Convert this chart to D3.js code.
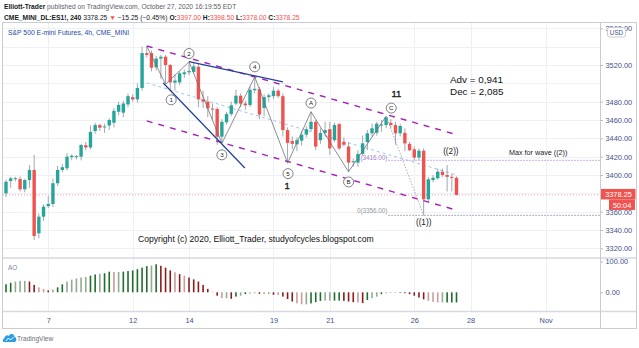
<!DOCTYPE html>
<html><head><meta charset="utf-8">
<script src="https://cdn.jsdelivr.net/npm/d3@7/dist/d3.min.js"></script>
<style>
html,body{margin:0;padding:0;background:#fff;}
svg{display:block;font-family:"Liberation Sans",Arial,sans-serif;}
</style></head><body>
<svg id="chart" width="639" height="348"></svg>
<script>
// ES1! (CME_MINI) 4h bars, 6 Oct – 27 Oct 2020
const openP = [3380,3393.5,3396,3395.6,3384.4,3394.5,3405.5,3336.4,3354.5,3366,
  3368.4,3391,3405.5,3407.3,3419.5,3420,3420,3432.5,3430,3448,
  3454.5,3452,3454,3457,3469,3468,3477,3485,3482.5,3495,
  3533,3533,3517.5,3527,3529,3520,3500.7,3501,3510,3512,
  3512.5,3518,3482.5,3480,3472.5,3472,3441.8,3457.5,3466.5,3478,
  3486.5,3478,3476.4,3492.5,3493.5,3473,3485,3486,3492,3486,
  3449,3437,3433.5,3437.5,3444,3450,3458,3438,3446,3450,
  3438,3455.5,3436,3431,3414,3413.5,3423,3436,3445.5,3446,
  3454.5,3454.5,3457,3454.5,3445.5,3446,3434,3428,3419,3426.5,
  3373.5,3394.5,3396.4,3403.6,3400,3398,3397];
const highP = [3395,3398,3398,3398.5,3396,3411,3422,3358,3368,3377,
  3396,3410,3412,3424,3422.5,3422,3434,3436,3454,3457,
  3456,3456,3462,3473,3480,3481,3489,3488,3500,3540,
  3540.5,3536,3530,3531,3531,3521,3510,3513,3515,3523,
  3523,3521,3492,3486,3478,3474,3461,3469,3480,3493,
  3489,3481,3496,3507,3496,3488,3489,3496,3494,3489,
  3452,3442,3441,3448,3453,3469,3460,3451,3458,3458,
  3457,3457,3441,3436,3418,3427,3443,3449,3456,3458,
  3460,3464,3461,3458,3456,3451,3436,3431,3429,3429,
  3398,3400,3407,3407,3411,3401,3398.5];
const lowP = [3376,3386,3393,3382,3381,3386,3329,3331,3350,3364,
  3365,3388,3403,3405,3416,3417,3416,3427,3428,3445,
  3448,3446,3449,3452,3465,3463,3474,3480,3479,3492,
  3528,3513,3514,3505,3500,3493,3492,3498,3506,3509,
  3511,3474,3473,3463,3460,3433,3434.5,3455,3464,3476,
  3474,3471,3474,3489,3461,3464,3480,3483,3484,3442,
  3413,3428,3426,3432,3441,3447,3427,3434,3442,3422,
  3436,3427,3431,3403.5,3409,3409,3421,3427,3442,3443,
  3447,3451,3451,3433,3442,3426,3426,3416,3416,3356,
  3371,3392,3395,3398,3382,3382,3378];
const closeP = [3392.7,3396.4,3396.5,3384.4,3394.5,3405.5,3333.5,3354.5,3365.5,3368.5,
  3391,3405.5,3408.5,3420,3421,3420.5,3432.7,3430,3447,3454.5,
  3451.6,3453,3460,3470,3476.5,3478,3486,3482.5,3495,3533,
  3531,3517,3527,3529,3520,3501,3503,3511,3512,3513.5,
  3518.5,3482.5,3480,3472.7,3471.5,3441.8,3458,3466.5,3476,3486.5,
  3478,3476,3493,3494,3466,3485,3487,3492,3486,3449,
  3435,3434,3438,3444,3450,3458,3431,3446,3449,3429,
  3454.5,3429,3433,3413.5,3415,3423,3434.5,3445.5,3451,3456,
  3455,3463,3454.5,3445.5,3453.5,3434.5,3427,3419,3426.5,3373.5,
  3395.3,3397,3403.6,3400,3398,3397.5,3378.25];

// Awesome Oscillator, one value per bar
const aoValues = [26,31,35,37,37,35,24,16,11,6,
  9,16,26,35,41,45,48,50,54,58,
  60,62,67,66,66,67,69,71,75,80,
  85,87,91,86,80,71,65,59,54,48,
  42,35,24,11,2,-11,-19,-19,-21,-14,
  -11,-6,-4,-3,-5,-6,-6,-8,-9,-14,
  -22,-30,-36,-39,-39,-36,-32,-28,-27,-27,
  -27,-27,-28,-30,-32,-33,-35,-25,-19,-14,
  -6,-3,-2,-2,-2,-3,-6,-11,-17,-23,
  -28,-31,-33,-33,-33,-33,-33];

// time axis: bar index of each labelled session
const dayIdx = [9,27,39,57,69,87,99,115];
const dayLabels = ["7","12","14","19","21","26","28","Nov"];
const priceTicks = [3320,3340,3360,3400,3420,3440,3460,3480,3520,3560];
const gridPrices = d3.range(3320, 3561, 20);
const aoTicks = [0,100];
const lastPrice = 3378.25;

// Elliott wave count (bar index, price)
const waveIdx   = [30,34,39,46,53,60,65,73,81];
const wavePrice = [3540.5,3499,3523.5,3434.5,3507,3413,3469,3403.5,3464];
const waveEndIdx = [81,89];
const waveEndPrice = [3464,3356];
const circleText  = ["1","2","3","4","5","A","B","C"];
const circleIdx   = [35.2,39,46,53,60.1,65,73,82.1];
const circlePrice = [3482,3532.5,3422,3518,3401.5,3478.5,3392.4,3473];
const plainText  = ["1","11","((2))","((1))"];
const plainIdx   = [59.9,83.2,94.8,89];
const plainPrice = [3388,3489,3425.5,3349];

// channel and trend lines: [startIdx, startPrice, endIdx, endPrice]
const channelUpper = [30,3540.7,96.3,3443.6];
const channelLower = [30,3459,95.9,3361.8];
const channelMid   = [30,3500.4,96.1,3400];
const trendA = [33.5,3500.4,50.9,3407.6];
const trendB = [39,3523.6,59,3501.5];
const fibLevels = [3416,3356];
const fibLabels = ["1(3416.00)","0(3356.00)"];
const fibStartIdx = 81.5;

const svg = d3.select("#chart");
const L = 3, R = 600.5, T = 23, PB = 257.5, AT = 258.5, AB = 311.5, B = 328.5;

const x = d3.scaleLinear().domain([0, 96]).range([6, 456.5]);
const y = d3.scaleLinear().domain([3400, 3520]).range([175, 65]);
const yA = d3.scaleLinear().domain([0, 100]).range([292.3, 261.5]);

const defs = svg.append("defs");
defs.append("clipPath").attr("id","cp").append("rect").attr("x",L).attr("y",T).attr("width",R-L).attr("height",PB-T);
defs.append("clipPath").attr("id","ca").append("rect").attr("x",L).attr("y",AT).attr("width",R-L).attr("height",AB-AT);

// header
const h1 = svg.append("text").attr("x",4).attr("y",9).attr("font-size",6.7).attr("fill","#131722");
h1.append("tspan").attr("font-weight","bold").text("Elliott-Trader");
h1.append("tspan").attr("fill","#5d606b").text(" published on TradingView.com, October 27, 2020 16:19:55 EDT");
const h2 = svg.append("text").attr("x",4).attr("y",19.5).attr("font-size",6.7).attr("fill","#131722");
h2.append("tspan").attr("font-weight","bold").text("CME_MINI_DL:ES1!, 240 ");
h2.append("tspan").text("3378.25 ");
h2.append("tspan").attr("fill","#ef5350").text("▼");
h2.append("tspan").text(" −15.25 (−0.45%) ");
[["O:","3397.00"],["H:","3398.50"],["L:","3378.00"],["C:","3378.25"]].forEach(([k,v],j)=>{
  h2.append("tspan").attr("font-weight","bold").text((j? " ":"")+k);
  h2.append("tspan").attr("fill","#ef5350").text(v);
});

// frame
svg.append("rect").attr("x",2.5).attr("y",T-0.5).attr("width",634).attr("height",B-T+0.5)
  .attr("fill","#fff").attr("stroke","#c9ccd3");

// grid
const grid = svg.append("g").attr("stroke","#edf0f6").attr("stroke-width",1);
grid.selectAll(".hg").data(gridPrices).join("line")
  .attr("x1",L).attr("x2",R).attr("y1",d=>Math.round(y(d))+0.5).attr("y2",d=>Math.round(y(d))+0.5);
grid.selectAll(".vg").data(dayIdx).join("line")
  .attr("y1",T).attr("y2",AB).attr("x1",d=>Math.round(x(d))+0.5).attr("x2",d=>Math.round(x(d))+0.5);

// pane separators
svg.append("line").attr("x1",L).attr("x2",636).attr("y1",258).attr("y2",258).attr("stroke","#d6d9e0").attr("stroke-width",1.6);
svg.append("line").attr("x1",L).attr("x2",636).attr("y1",AB).attr("y2",AB).attr("stroke","#d6d9e0").attr("stroke-width",1.6);
svg.append("line").attr("x1",R).attr("x2",R).attr("y1",T).attr("y2",B).attr("stroke","#c9ccd3");

const pane = svg.append("g").attr("clip-path","url(#cp)");

// last price line
pane.append("line").attr("x1",L).attr("x2",R).attr("y1",y(lastPrice)).attr("y2",y(lastPrice))
  .attr("stroke","#f5a3a8").attr("stroke-dasharray","1,2");

// fib levels
fibLevels.forEach((lv,k)=>{
  pane.append("line").attr("x1",x(fibStartIdx)).attr("x2",R).attr("y1",y(lv)).attr("y2",y(lv))
    .attr("stroke",k===0?"#b07cd6":"#787b86").attr("stroke-dasharray","1.2,1.8").attr("stroke-width",1);
  pane.append("text").attr("x",x(fibStartIdx)-1).attr("y",y(lv)-(k===0?0.5:2.5)).attr("text-anchor","end")
    .attr("font-size",6.3).attr("fill",k===0?"#a67fd0":"#9598a1").text(fibLabels[k]);
});

function seg(a, stroke, w, dash){
  pane.append("line").attr("x1",x(a[0])).attr("y1",y(a[1])).attr("x2",x(a[2])).attr("y2",y(a[3]))
    .attr("stroke",stroke).attr("stroke-width",w).attr("stroke-dasharray",dash||null);
}
seg(channelMid,"#9cc3f0",1,"3,3");

// candles
const bars = openP.map((o,i)=>({i,o,h:highP[i],l:lowP[i],c:closeP[i]}));
pane.selectAll(".wick").data(bars).join("line")
  .attr("x1",d=>x(d.i)).attr("x2",d=>x(d.i)).attr("y1",d=>y(d.h)).attr("y2",d=>y(d.l))
  .attr("stroke","#a3a6ad").attr("stroke-width",1);
pane.selectAll(".body").data(bars).join("rect")
  .attr("x",d=>x(d.i)-1.7).attr("width",3.4)
  .attr("y",d=>y(Math.max(d.o,d.c)))
  .attr("height",d=>Math.max(1,Math.abs(y(d.o)-y(d.c))))
  .attr("fill",d=>d.c>=d.o?"#26a69a":"#ef5350");

// channel lines
seg(channelUpper,"#a51fb8",1.4,"6,6");
seg(channelLower,"#a51fb8",1.4,"6,6");
seg(trendA,"#1f3f98",1.2);
seg(trendB,"#1f3f98",1.2);

// wave zigzag
const zz = d3.line().x(d=>x(d[0])).y(d=>y(d[1]));
pane.append("path").attr("d",zz(waveIdx.map((v,k)=>[v,wavePrice[k]])))
  .attr("fill","none").attr("stroke","#6f7178").attr("stroke-width",0.8);
pane.append("path").attr("d",zz(waveEndIdx.map((v,k)=>[v,waveEndPrice[k]])))
  .attr("fill","none").attr("stroke","#a0a3aa").attr("stroke-width",0.9).attr("stroke-dasharray","1.5,1.5");

// wave labels
const cl = pane.selectAll(".cl").data(circleText).join("g")
  .attr("transform",(d,k)=>`translate(${x(circleIdx[k])},${y(circlePrice[k])})`);
cl.append("circle").attr("r",5).attr("fill","#fff").attr("stroke","#4a4c52").attr("stroke-width",0.7);
cl.append("text").attr("text-anchor","middle").attr("dy","0.35em").attr("font-size",6.2).attr("fill","#222").text(d=>d);
pane.selectAll(".pl").data(plainText).join("text")
  .attr("x",(d,k)=>x(plainIdx[k])).attr("y",(d,k)=>y(plainPrice[k])).attr("dy","0.35em")
  .attr("text-anchor","middle").attr("fill","#1a1a1a")
  .attr("font-size",(d,k)=>k<2?9.5:8.2)
  .attr("stroke",(d,k)=>k<2?"#1a1a1a":null).attr("stroke-width",(d,k)=>k<2?0.35:null)
  .text(d=>d);

// notes
pane.append("text").attr("x",450).attr("y",82.5).attr("font-size",9.9).attr("fill","#111").text("Adv = 0,941");
pane.append("text").attr("x",450).attr("y",94.5).attr("font-size",9.9).attr("fill","#111").text("Dec = 2,085");
pane.append("text").attr("x",509).attr("y",155).attr("font-size",7.2).attr("fill","#222").text("Max for wave ((2))");
pane.append("text").attr("x",138).attr("y",242).attr("font-size",8.6).attr("fill","#111")
  .text("Copyright (c) 2020,  Elliott_Trader, studyofcycles.blogspot.com");
svg.append("text").attr("x",8).attr("y",34.5).attr("font-size",6.8).attr("fill","#1c4aa6").text("S&P 500 E-mini Futures, 4h, CME_MINI");

// AO pane
const aoPane = svg.append("g").attr("clip-path","url(#ca)");
function aoColor(k){
  const v = aoValues[k], prev = k>0?aoValues[k-1]:v;
  const d = v-prev, dp = k>1?prev-aoValues[k-2]:d;
  const strong = Math.abs(d) >= Math.abs(dp);
  if (d >= 0) return strong ? "#1f6e2a" : "#93aa93";
  return strong ? "#8e1b1b" : "#c79d9d";
}
aoPane.selectAll(".ao").data(aoValues).join("rect")
  .attr("x",(d,k)=>x(k)-0.8).attr("width",1.6)
  .attr("y",d=>Math.min(yA(d),yA(0))).attr("height",d=>Math.max(0.6,Math.abs(yA(d)-yA(0))))
  .attr("fill",(d,k)=>aoColor(k));
svg.append("text").attr("x",8).attr("y",270).attr("font-size",6.3).attr("fill","#7a86aa").text("AO");

// axes
const axColor = "#3f5189";
const pAxis = svg.append("g").attr("transform",`translate(${R},0)`)
  .call(d3.axisRight(y).tickValues(priceTicks).tickFormat(d3.format(".2f")).tickSize(2.5).tickPadding(2.5));
const aAxis = svg.append("g").attr("transform",`translate(${R},0)`)
  .call(d3.axisRight(yA).tickValues(aoTicks).tickFormat(d3.format(".2f")).tickSize(2.5).tickPadding(2.5));
const tAxis = svg.append("g").attr("transform",`translate(0,${AB})`)
  .call(d3.axisBottom(x).tickValues(dayIdx).tickFormat((d,k)=>dayLabels[k]).tickSize(0).tickPadding(6));
[pAxis,aAxis,tAxis].forEach(g=>{
  g.select(".domain").remove();
  g.selectAll("text").attr("font-size",7.4).attr("fill",axColor).attr("font-family","Liberation Sans, Arial, sans-serif");
  g.selectAll("line").attr("stroke","#b8bcc6");
});

// USD badge
svg.append("rect").attr("x",607.5).attr("y",27.5).attr("width",18).attr("height",9.5).attr("rx",2)
  .attr("fill","#fff").attr("stroke","#c9ccd3");
svg.append("text").attr("x",616.5).attr("y",34.7).attr("text-anchor","middle").attr("font-size",6.3).attr("fill",axColor).text("USD");

// last price tag + countdown
const ty = y(lastPrice);
svg.append("rect").attr("x",R+0.5).attr("y",ty-6).attr("width",34.5).attr("height",10.5).attr("fill","#ef5350");
svg.append("text").attr("x",R+18).attr("y",ty+2.3).attr("text-anchor","middle").attr("font-size",7.4).attr("fill","#fff").text(d3.format(".2f")(lastPrice));
svg.append("rect").attr("x",609).attr("y",ty+4.5).attr("width",26).attr("height",10.5).attr("fill","#ef5350");
svg.append("text").attr("x",622).attr("y",ty+12.6).attr("text-anchor","middle").attr("font-size",7.4).attr("fill","#fff").text("50:04");

// footer logo
const logo = svg.append("g").attr("transform","translate(3,333)");
logo.append("path").attr("d","M1,9 C-0.5,9 -0.5,5.5 1.5,5.2 C1.8,2.5 4.5,1.5 6,3 C7,0 11.5,0.5 11.5,4 C14,4 14,9 11.5,9 Z").attr("fill","#2e9be8");
logo.append("path").attr("d","M3,8 L5.5,5 L7.5,7 L10.5,4").attr("fill","none").attr("stroke","#fff").attr("stroke-width",1);
svg.append("text").attr("x",17).attr("y",341).attr("font-size",6.6).attr("fill","#6b6e78").text("TradingView");
</script></body></html>
